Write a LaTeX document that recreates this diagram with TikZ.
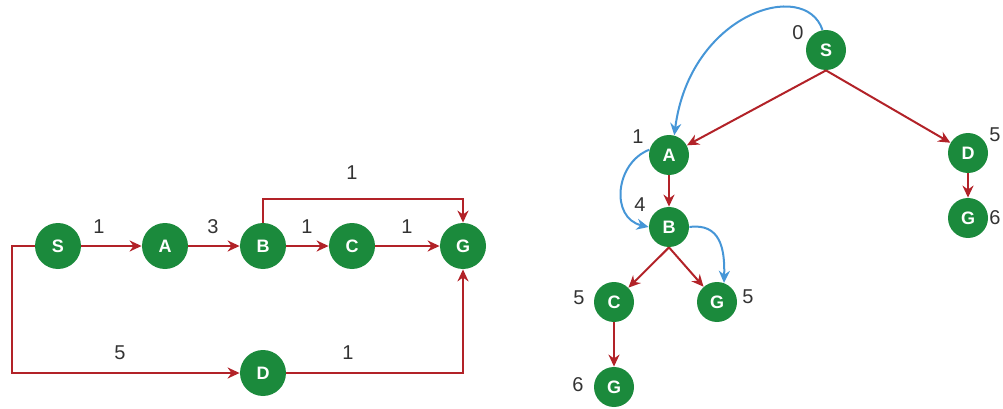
\documentclass[tikz,border=0pt]{standalone}
\usepackage{fontspec}
\setmainfont{Liberation Sans}
\usetikzlibrary{arrows.meta}
\definecolor{nodegreen}{RGB}{27,138,60}
\definecolor{edgered}{RGB}{178,34,40}
\definecolor{pathblue}{RGB}{70,150,215}
\begin{document}
\begin{tikzpicture}[x=0.5pt,y=0.5pt,
  vtx/.style={circle,fill=nodegreen,text=white,font=\fontsize{9}{10}\selectfont\bfseries,minimum size=23pt,inner sep=0pt},
  tvtx/.style={vtx,minimum size=20pt},
  wt/.style={font=\fontsize{10}{12}\selectfont,text=black!80},
  >={Stealth[length=6pt,width=5.5pt]},
  redarrow/.style={->,draw=edgered,line width=1pt},
  bluearrow/.style={->,draw=pathblue,line width=1pt}]
\useasboundingbox (0,0) rectangle (1003,408);
%\draw (0,0) rectangle (1003,408);

% weighted graph
\draw (58,162) node[vtx] (s) {S};
\draw (165,162) node[vtx] (a) {A};
\draw (263,162) node[vtx] (b) {B};
\draw (352,162) node[vtx] (c) {C};
\draw (463,162) node[vtx] (g) {G};
\draw (263,35) node[vtx] (d) {D};
\coordinate (top) at (352,209);
\coordinate (low) at (12,100);

\draw[redarrow] (s) -- (a);
\draw[redarrow] (a) -- (b);
\draw[redarrow] (b) -- (c);
\draw[redarrow] (c) -- (g);
\draw[redarrow] (b.north) |- (top) -| (g.north);
\draw[redarrow] (s.west) -| (low) |- (d.west);
\draw[redarrow] (d.east) -| (g.south);

\draw (99,181) node[wt] (wsa) {1};
\draw (213,181) node[wt] (wab) {3};
\draw (307,181) node[wt] (wbc) {1};
\draw (407,181) node[wt] (wcg) {1};
\draw (352,235) node[wt] (wbg) {1};
\draw (120,55) node[wt] (wsd) {5};
\draw (348,55) node[wt] (wdg) {1};

% search tree
\draw (826,358) node[tvtx] (ts) {S};
\draw (669,253) node[tvtx] (ta) {A};
\draw (669,181) node[tvtx] (tb) {B};
\draw (614,106) node[tvtx] (tc) {C};
\draw (717,106) node[tvtx] (tgb) {G};
\draw (614,21) node[tvtx] (tgc) {G};
\draw (968,255) node[tvtx] (td) {D};
\draw (968,190) node[tvtx] (tgd) {G};

\draw[redarrow] (ts.south) -- (ta);
\draw[redarrow] (ts.south) -- (td);
\draw[redarrow] (ta) -- (tb);
\draw[redarrow] (tb.south) -- (tc);
\draw[redarrow] (tb.south) -- (tgb);
\draw[redarrow] (tc) -- (tgc);
\draw[redarrow] (td) -- (tgd);

\draw[bluearrow] (ts.100) .. controls (805,430) and (690,395) .. (ta.75);
\draw[bluearrow] (ta.165) .. controls (615,245) and (610,190) .. (tb.west);
\draw[bluearrow] (tb.east) .. controls (720,185) and (725,160) .. (tgb.70);

\draw (798,375) node[wt] (cs) {0};
\draw (638,271) node[wt] (ca) {1};
\draw (640,203) node[wt] (cb) {4};
\draw (579,110) node[wt] (cc) {5};
\draw (748,111) node[wt] (cgb) {5};
\draw (578,23) node[wt] (cgc) {6};
\draw (995,273) node[wt] (cd) {5};
\draw (995,190) node[wt] (cgd) {6};
\end{tikzpicture}
\end{document}
